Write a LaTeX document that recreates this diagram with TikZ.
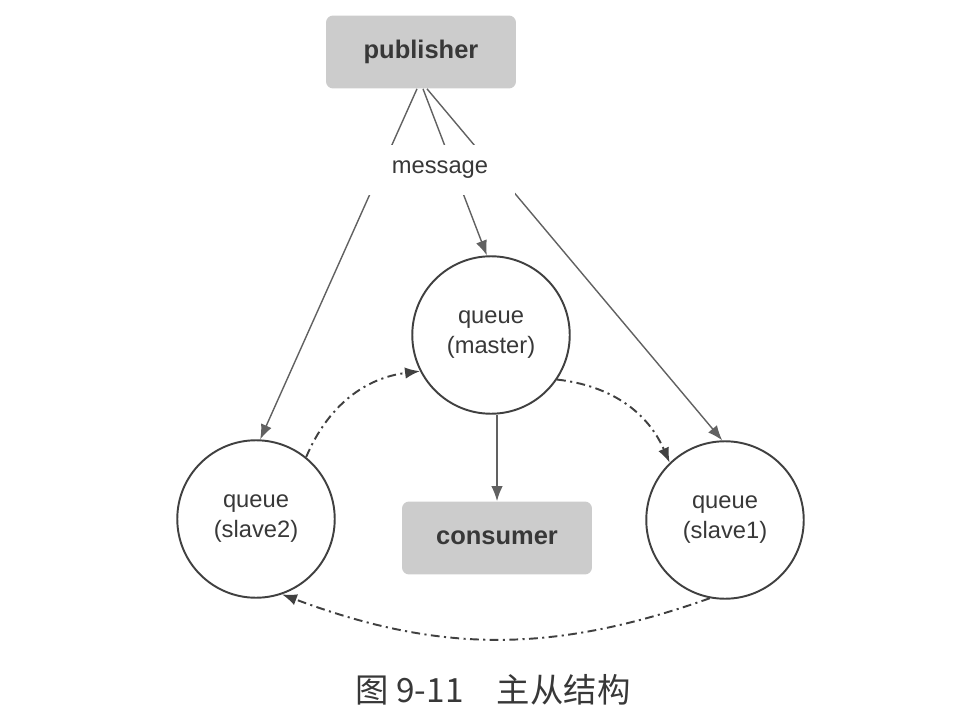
\documentclass[tikz,border=0pt]{standalone}
\usepackage{fontspec}
\setmainfont{Liberation Sans}
\newfontfamily\cjk{Noto Sans CJK SC}
\usepackage{tikz}
\usetikzlibrary{arrows.meta}
\usetikzlibrary{calc}
\definecolor{mgrey}{rgb}{0.80, 0.80, 0.80}
\definecolor{mtext}{rgb}{0.22, 0.22, 0.22}
\definecolor{mline}{rgb}{0.38, 0.38, 0.38}
\definecolor{mdark}{rgb}{0.25, 0.25, 0.25}
\tikzset{box/.style = {fill=mgrey, rounded corners=4pt, minimum width=3.8cm, minimum height=1.46cm,
                       text=mtext, font=\fontsize{14.5}{16}\selectfont\bfseries},
         queue/.style = {circle, draw=mdark, line width=1.1pt, minimum size=3.15cm, align=center,
                         text=mtext, font=\fontsize{13.5}{17}\selectfont},
         feed/.style = {draw=mline, line width=0.8pt, -{Latex[length=8.5pt,width=6.5pt]}},
         sync/.style = {draw=mdark, line width=1.1pt, dash pattern=on 5pt off 2.5pt on 1.2pt off 2.5pt,
                        -{Latex[length=8.5pt,width=6.5pt]}}}

\begin{document}
\begin{tikzpicture}[x=0.02cm, y=-0.02cm]
    \useasboundingbox (0, 0) rectangle (962, 719);

    \node [box] (publisher) at (421, 52) {publisher};
    \node [queue] (master) at (491, 335) {queue\\(master)};
    \node [queue] (slave2) at (256, 519) {queue\\(slave2)};
    \node [queue] (slave1) at (725, 520) {queue\\(slave1)};
    \node [box] (consumer) at (497, 538) {consumer};

    \draw [feed] ($(publisher.south) + (-4, 0)$) -- (slave2.87);
    \draw [feed] ($(publisher.south) + (2, 0)$) -- (master.93);
    \draw [feed] ($(publisher.south) + (6, 0)$) -- (slave1.92);
    \node [fill=white, minimum width=3cm, minimum height=1cm, text=mtext,
           font=\fontsize{13.5}{16}\selectfont] (message) at (440, 170) {message};

    \draw [feed] (master.south -| consumer.north) -- (consumer.north);

    % replication between the queues
    \draw [sync] (slave2.51) to [bend left=30] (master.207);
    \draw [sync] (master.-34) to [bend left=30] (slave1.134);
    \draw [sync] (slave1.259) to [bend left=20] (slave2.289);

    \node [text=mtext, font=\cjk\fontsize{19}{21}\selectfont] (caption) at (493, 690) {图 9-11\quad 主从结构};
\end{tikzpicture}
\end{document}
